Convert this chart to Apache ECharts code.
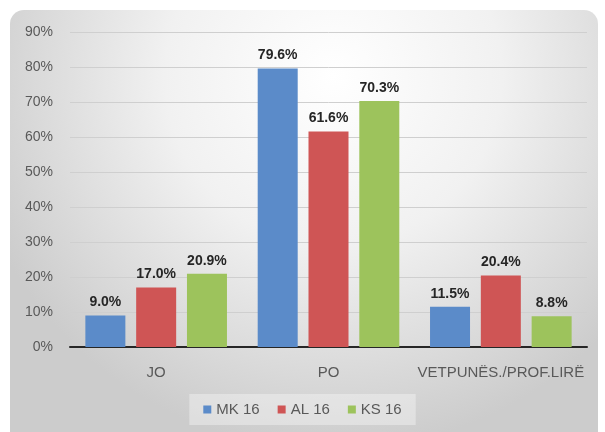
<!DOCTYPE html>
<html><head><meta charset="utf-8">
<script src="https://cdn.jsdelivr.net/npm/echarts@6/dist/echarts.min.js"></script>
<style>html,body{margin:0;padding:0;background:#fff}#c{width:605px;height:432px}</style>
</head><body><div id="c"></div>
<script>
const categories = ['JO', 'PO', 'VETPUNËS./PROF.LIRË'];
const seriesNames = ['MK 16', 'AL 16', 'KS 16'];
const mk16 = [9.0, 79.6, 11.5];
const al16 = [17.0, 61.6, 20.4];
const ks16 = [20.9, 70.3, 8.8];
const colors = ['#5b8bc9', '#cf5555', '#9dc35c'];
const yTicks = [0, 10, 20, 30, 40, 50, 60, 70, 80, 90];

const font = '"Liberation Sans", Arial, sans-serif';
const values = [mk16, al16, ks16];
const chart = echarts.init(document.getElementById('c'));
chart.setOption({
  animation: false,
  textStyle: { fontFamily: font },
  graphic: [{
    type: 'rect', z: -10, silent: true,
    shape: { x: 10, y: 10, width: 588, height: 440, r: 14 },
    style: {
      fill: new echarts.graphic.RadialGradient(0.55, 0.15, 0.85, [
        { offset: 0, color: '#ffffff' },
        { offset: 0.45, color: '#f1f1f1' },
        { offset: 1, color: '#cccccc' }
      ])
    }
  }],
  grid: { left: 70, right: 18, top: 32, bottom: 85 },
  legend: {
    data: seriesNames,
    top: 394, left: 'center',
    itemWidth: 8, itemHeight: 8, itemGap: 18,
    padding: [8, 14],
    backgroundColor: 'rgba(255,255,255,0.35)',
    icon: 'rect',
    textStyle: { color: '#595959', fontSize: 15, fontFamily: font }
  },
  xAxis: {
    type: 'category', data: categories,
    axisLine: { lineStyle: { color: '#262626', width: 2 } },
    axisTick: { show: false },
    axisLabel: { color: '#595959', fontSize: 15, margin: 18, interval: 0 }
  },
  yAxis: {
    type: 'value', min: 0, max: yTicks[yTicks.length - 1], interval: 10,
    axisLine: { show: false }, axisTick: { show: false },
    splitLine: { lineStyle: { color: '#cfcfcf', width: 1 } },
    axisLabel: { color: '#595959', fontSize: 14, margin: 17, formatter: v => v + '%' }
  },
  series: seriesNames.map((n, i) => ({
    name: n, type: 'bar', data: values[i],
    barWidth: 40, barGap: '27%',
    itemStyle: { color: colors[i] },
    label: {
      show: true, position: 'top', distance: 6,
      color: '#262626', fontWeight: 'bold', fontSize: 14,
      formatter: p => p.value.toFixed(1) + '%'
    }
  }))
});
</script></body></html>
